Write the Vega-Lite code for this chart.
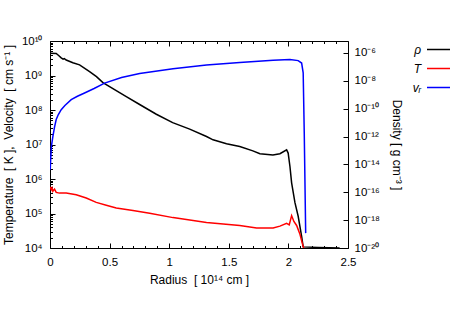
{
  "$schema": "https://vega.github.io/schema/vega-lite/v6.json",
  "width": 298,
  "height": 207,
  "autosize": {"type": "none"},
  "padding": {"left": 50, "top": 41, "right": 115, "bottom": 76},
  "background": "white",
  "config": {
    "font": "Liberation Sans",
    "view": {"stroke": "black", "strokeWidth": 1},
    "axis": {
      "grid": false,
      "domain": false,
      "labelFlush": false,
      "labelColor": "black",
      "titleColor": "black",
      "tickColor": "black",
      "labelFontSize": 11.5,
      "titleFontSize": 12,
      "titleFontWeight": "normal",
      "labelFont": "Liberation Sans",
      "titleFont": "Liberation Sans"
    }
  },
  "data": {
    "values": [
      {"r": 0.0, "q": "ρ", "v": 9.5e-7},
      {"r": 0.052, "q": "ρ", "v": 9.3e-7},
      {"r": 0.07, "q": "ρ", "v": 6.8e-7},
      {"r": 0.094, "q": "ρ", "v": 4.4e-7},
      {"r": 0.11, "q": "ρ", "v": 3.6e-7},
      {"r": 0.12, "q": "ρ", "v": 3.9e-7},
      {"r": 0.136, "q": "ρ", "v": 3.1e-7},
      {"r": 0.192, "q": "ρ", "v": 2.0e-7},
      {"r": 0.248, "q": "ρ", "v": 1.4e-7},
      {"r": 0.332, "q": "ρ", "v": 4.6e-8},
      {"r": 0.39, "q": "ρ", "v": 2.0e-8},
      {"r": 0.444, "q": "ρ", "v": 7.4e-9},
      {"r": 0.64, "q": "ρ", "v": 7.4e-10},
      {"r": 0.752, "q": "ρ", "v": 2.0e-10},
      {"r": 0.892, "q": "ρ", "v": 4.0e-11},
      {"r": 1.029, "q": "ρ", "v": 1.0e-11},
      {"r": 1.172, "q": "ρ", "v": 3.4e-12},
      {"r": 1.313, "q": "ρ", "v": 1.0e-12},
      {"r": 1.368, "q": "ρ", "v": 5.8e-13},
      {"r": 1.481, "q": "ρ", "v": 3.0e-13},
      {"r": 1.592, "q": "ρ", "v": 1.9e-13},
      {"r": 1.702, "q": "ρ", "v": 9.3e-14},
      {"r": 1.761, "q": "ρ", "v": 5.8e-14},
      {"r": 1.87, "q": "ρ", "v": 4.7e-14},
      {"r": 1.929, "q": "ρ", "v": 5.8e-14},
      {"r": 1.985, "q": "ρ", "v": 1.1e-13},
      {"r": 1.998, "q": "ρ", "v": 6.5e-14},
      {"r": 2.013, "q": "ρ", "v": 7.1e-15},
      {"r": 2.027, "q": "ρ", "v": 4.8e-16},
      {"r": 2.055, "q": "ρ", "v": 1.8e-17},
      {"r": 2.082, "q": "ρ", "v": 1.9e-18},
      {"r": 2.111, "q": "ρ", "v": 6.8e-20},
      {"r": 2.124, "q": "ρ", "v": 1.2e-20},
      {"r": 2.25, "q": "ρ", "v": 1.1e-20},
      {"r": 2.43, "q": "ρ", "v": 1.0e-20},
      {"r": 0.0, "q": "T", "v": 5.9e5},
      {"r": 0.01, "q": "T", "v": 4.9e5},
      {"r": 0.017, "q": "T", "v": 5.5e5},
      {"r": 0.024, "q": "T", "v": 4.4e5},
      {"r": 0.038, "q": "T", "v": 5.1e5},
      {"r": 0.052, "q": "T", "v": 4.1e5},
      {"r": 0.08, "q": "T", "v": 3.9e5},
      {"r": 0.136, "q": "T", "v": 3.9e5},
      {"r": 0.22, "q": "T", "v": 3.5e5},
      {"r": 0.304, "q": "T", "v": 2.8e5},
      {"r": 0.388, "q": "T", "v": 2.1e5},
      {"r": 0.472, "q": "T", "v": 1.74e5},
      {"r": 0.556, "q": "T", "v": 1.45e5},
      {"r": 0.696, "q": "T", "v": 1.23e5},
      {"r": 0.836, "q": "T", "v": 1.02e5},
      {"r": 1.032, "q": "T", "v": 7.6e4},
      {"r": 1.313, "q": "T", "v": 5.5e4},
      {"r": 1.592, "q": "T", "v": 4.5e4},
      {"r": 1.733, "q": "T", "v": 3.8e4},
      {"r": 1.872, "q": "T", "v": 3.8e4},
      {"r": 1.929, "q": "T", "v": 4.3e4},
      {"r": 1.985, "q": "T", "v": 5.2e4},
      {"r": 2.007, "q": "T", "v": 4.7e4},
      {"r": 2.027, "q": "T", "v": 8.7e4},
      {"r": 2.046, "q": "T", "v": 5.9e4},
      {"r": 2.069, "q": "T", "v": 4.5e4},
      {"r": 2.097, "q": "T", "v": 2.5e4},
      {"r": 2.124, "q": "T", "v": 1.1e4},
      {"r": 2.13, "q": "T", "v": 1.0e4},
      {"r": 0.002, "q": "vᵣ", "v": 1.86e6},
      {"r": 0.006, "q": "vᵣ", "v": 4.0e6},
      {"r": 0.012, "q": "vᵣ", "v": 9.0e6},
      {"r": 0.024, "q": "vᵣ", "v": 1.7e7},
      {"r": 0.038, "q": "vᵣ", "v": 3.2e7},
      {"r": 0.052, "q": "vᵣ", "v": 5.3e7},
      {"r": 0.07, "q": "vᵣ", "v": 7.4e7},
      {"r": 0.094, "q": "vᵣ", "v": 1.02e8},
      {"r": 0.125, "q": "vᵣ", "v": 1.35e8},
      {"r": 0.178, "q": "vᵣ", "v": 2.0e8},
      {"r": 0.23, "q": "vᵣ", "v": 2.5e8},
      {"r": 0.29, "q": "vᵣ", "v": 3.1e8},
      {"r": 0.37, "q": "vᵣ", "v": 4.2e8},
      {"r": 0.458, "q": "vᵣ", "v": 6.0e8},
      {"r": 0.6, "q": "vᵣ", "v": 8.7e8},
      {"r": 0.752, "q": "vᵣ", "v": 1.15e9},
      {"r": 1.032, "q": "vᵣ", "v": 1.58e9},
      {"r": 1.313, "q": "vᵣ", "v": 2.0e9},
      {"r": 1.592, "q": "vᵣ", "v": 2.4e9},
      {"r": 1.872, "q": "vᵣ", "v": 2.75e9},
      {"r": 2.013, "q": "vᵣ", "v": 2.9e9},
      {"r": 2.082, "q": "vᵣ", "v": 2.7e9},
      {"r": 2.111, "q": "vᵣ", "v": 2.3e9},
      {"r": 2.124, "q": "vᵣ", "v": 1.2e9},
      {"r": 2.133, "q": "vᵣ", "v": 2.2e7},
      {"r": 2.145, "q": "vᵣ", "v": 2.7e4}
    ]
  },
  "resolve": {
    "scale": {"y": "independent"},
    "axis": {"x": "independent", "y": "independent"}
  },
  "layer": [
    {
      "transform": [{"filter": "datum.q == 'ρ'"}],
      "mark": {"type": "line", "strokeWidth": 1.5, "clip": true},
      "encoding": {
        "x": {
          "field": "r", "type": "quantitative",
          "scale": {"domain": [0, 2.5], "nice": false, "zero": false},
          "axis": {"orient": "top", "values": [0, 0.5, 1, 1.5, 2, 2.5], "labels": false, "tickSize": -5, "title": null}
        },
        "y": {
          "field": "v", "type": "quantitative",
          "scale": {"type": "log", "domain": [1e-20, 7.2e-6], "nice": false},
          "axis": {
            "orient": "right",
            "values": [1e-20, 1e-18, 1e-16, 1e-14, 1e-12, 1e-10, 1e-8, 1e-6],
            "labelExpr": "['10⁻²⁰','10⁻¹⁸','10⁻¹⁶','10⁻¹⁴','10⁻¹²','10⁻¹⁰','10⁻⁸','10⁻⁶'][round((round(log(datum.value)/LN10)+20)/2)]",
            "tickSize": -5,
            "labelPadding": 11,
            "title": "Density\u00a0[ g cm⁻³ ]",
            "titlePadding": 10
          }
        },
        "color": {
          "field": "q", "type": "nominal",
          "scale": {"domain": ["ρ", "T", "vᵣ"], "range": ["#000000", "#ff0000", "#0000ff"]},
          "legend": {
            "orient": "none", "legendX": 376, "legendY": -4, "title": null,
            "symbolType": "stroke", "symbolSize": 529, "symbolStrokeWidth": 1.5,
            "labelFontSize": 12, "labelFontStyle": "italic", "labelColor": "black",
            "padding": 0, "rowPadding": -4.5,
            "encode": {"labels": {"update": {"x": {"value": -5}, "align": {"value": "right"}}}}
          }
        }
      }
    },
    {
      "transform": [{"filter": "datum.q != 'ρ'"}],
      "mark": {"type": "line", "strokeWidth": 1.5, "clip": true},
      "encoding": {
        "x": {
          "field": "r", "type": "quantitative",
          "scale": {"domain": [0, 2.5], "nice": false, "zero": false},
          "axis": {"orient": "bottom", "values": [0, 0.5, 1, 1.5, 2, 2.5], "format": "~g", "tickSize": -5, "labelPadding": 13, "title": "Radius\u00a0\u00a0[ 10¹⁴ cm ]", "titlePadding": 7}
        },
        "y": {
          "field": "v", "type": "quantitative",
          "scale": {"type": "log", "domain": [1e4, 1e10], "nice": false},
          "axis": {
            "orient": "left",
            "values": [1e4, 1e5, 1e6, 1e7, 1e8, 1e9, 1e10],
            "labelExpr": "['10⁴','10⁵','10⁶','10⁷','10⁸','10⁹','10¹⁰'][round(log(datum.value)/LN10)-4]",
            "tickSize": -5,
            "labelPadding": 13,
            "title": "Temperature\u00a0\u00a0[ K ],\u00a0\u00a0Velocity\u00a0\u00a0[ cm s⁻¹ ]",
            "titlePadding": 6
          }
        },
        "color": {
          "field": "q", "type": "nominal",
          "scale": {"domain": ["ρ", "T", "vᵣ"], "range": ["#000000", "#ff0000", "#0000ff"]}
        }
      }
    },
    {
      "transform": [{"filter": "datum.q == 'T'"}],
      "mark": {"type": "point", "opacity": 0},
      "encoding": {
        "x": {
          "field": "r", "type": "quantitative",
          "scale": {"domain": [0, 2.5], "nice": false, "zero": false},
          "axis": {"orient": "bottom", "values": [0.1, 0.2, 0.3, 0.4, 0.6, 0.7, 0.8, 0.9, 1.1, 1.2, 1.3, 1.4, 1.6, 1.7, 1.8, 1.9, 2.1, 2.2, 2.3, 2.4], "labels": false, "tickSize": -2.5, "title": null}
        },
        "y": {
          "field": "v", "type": "quantitative",
          "scale": {"type": "log", "domain": [1e4, 1e10], "nice": false},
          "axis": {
            "orient": "left",
            "values": [2e4, 3e4, 4e4, 5e4, 6e4, 7e4, 8e4, 9e4, 2e5, 3e5, 4e5, 5e5, 6e5, 7e5, 8e5, 9e5, 2e6, 3e6, 4e6, 5e6, 6e6, 7e6, 8e6, 9e6, 2e7, 3e7, 4e7, 5e7, 6e7, 7e7, 8e7, 9e7, 2e8, 3e8, 4e8, 5e8, 6e8, 7e8, 8e8, 9e8, 2e9, 3e9, 4e9, 5e9, 6e9, 7e9, 8e9, 9e9],
            "labels": false, "tickSize": -2.5, "title": null
          }
        }
      }
    },
    {
      "transform": [{"filter": "datum.q == 'T'"}],
      "mark": {"type": "point", "opacity": 0},
      "encoding": {
        "x": {
          "field": "r", "type": "quantitative",
          "scale": {"domain": [0, 2.5], "nice": false, "zero": false},
          "axis": {"orient": "top", "values": [0.1, 0.2, 0.3, 0.4, 0.6, 0.7, 0.8, 0.9, 1.1, 1.2, 1.3, 1.4, 1.6, 1.7, 1.8, 1.9, 2.1, 2.2, 2.3, 2.4], "labels": false, "tickSize": -2.5, "title": null}
        },
        "y": {
          "field": "v", "type": "quantitative",
          "scale": {"type": "log", "domain": [1e4, 1e10], "nice": false},
          "axis": null
        }
      }
    }
  ]
}
